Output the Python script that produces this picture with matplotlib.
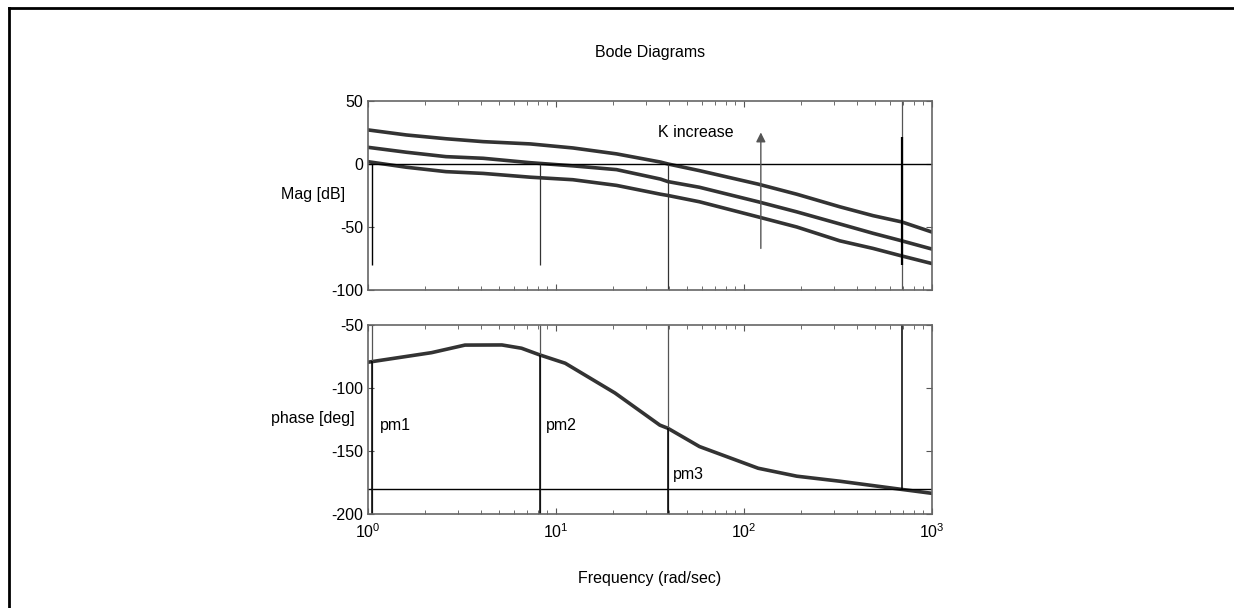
import matplotlib.pyplot as plt
from matplotlib.lines import Line2D

plt.rcParams['font.family'] = ['Liberation Sans', 'DejaVu Sans']
plt.rcParams['mathtext.fontset'] = 'custom'
plt.rcParams['mathtext.rm'] = 'Liberation Sans'
plt.rcParams['mathtext.it'] = 'Liberation Sans'
plt.rcParams['axes.unicode_minus'] = False

# magnitude curves (three gains)
mag_freq = [1, 1.6, 2.6, 4.1, 7.3, 12.3, 21, 36, 39.4, 58, 119, 191, 324, 486, 692, 1000]
mag_high = [27, 23, 20, 17.7, 15.9, 12.7, 8, 1.5, 0, -5.3, -16, -24, -34, -41, -46, -54]
mag_mid = [13.2, 9.3, 5.8, 4.5, 1, -1.5, -4.5, -12, -14, -18.5, -30, -38, -47.6, -55, -61, -67.5]
mag_low = [1.8, -2.6, -6.1, -7.5, -10.5, -12.5, -17, -24, -25, -30, -42, -50, -61, -67, -73, -79]

# phase curve
ph_freq = [1, 2.18, 3.28, 5.16, 6.56, 8.2, 11.2, 20.6, 35.7, 39.4, 58, 119, 191, 324, 692, 1000]
phase = [-79.6, -72, -66, -65.9, -68.5, -73.8, -80.4, -104, -129.5, -132,
         -146.5, -163.7, -170, -174, -180.5, -183.6]

# crossover frequencies and the phase there
wc = [1.05, 8.2, 39.4, 692]
ph_at_wc = [-79, -73.8, -132, -180]
pm_labels = ['pm1', 'pm2', 'pm3']
pm_pos = [(1.16, -130), (8.87, -130), (41.9, -169)]

fs = 11.5
curve_c = '#333333'

fig = plt.figure(figsize=(12.34, 6.08), dpi=100)
ax1 = fig.add_axes([0.2982, 0.523, 0.457, 0.311])
ax2 = fig.add_axes([0.2982, 0.1546, 0.457, 0.311])

for ax in (ax1, ax2):
    ax.set_xscale('log')
    ax.set_xlim(1, 1000)
    ax.tick_params(which='both', direction='in', top=True, right=True, labelsize=fs, color='#555555')
    ax.tick_params(which='major', length=4)
    ax.tick_params(which='minor', length=3)
    for s in ax.spines.values():
        s.set_color('#666666')
        s.set_linewidth(1.2)

# magnitude plot
ax1.plot(mag_freq, mag_high, color=curve_c, lw=2.6)
ax1.plot(mag_freq, mag_mid, color=curve_c, lw=2.6)
ax1.plot(mag_freq, mag_low, color=curve_c, lw=2.6)
ax1.axhline(0, color='black', lw=1)
ax1.vlines(wc[0], -80, 0, color='black', lw=1)
ax1.vlines(wc[1], -80, 0, color='#333333', lw=0.9)
ax1.vlines(wc[2], -100, 0, color='#333333', lw=0.9)
ax1.vlines(wc[3], -100, 50, color='#555555', lw=0.9)
ax1.vlines(wc[3], -80, 21, color='black', lw=1.6)
ax1.annotate('', xy=(123, 25), xytext=(123, -67),
             arrowprops=dict(arrowstyle='-|>', color='#555555', lw=1, mutation_scale=14,
                             shrinkA=0, shrinkB=0))
ax1.text(35, 25, 'K increase', fontsize=fs, ha='left', va='center')
ax1.set_ylim(-100, 50)
ax1.set_yticks([-100, -50, 0, 50])
ax1.tick_params(labelbottom=False)

# phase plot
ax2.plot(ph_freq, phase, color=curve_c, lw=2.6)
ax2.axhline(-180, color='black', lw=1)
for w, p in zip(wc[:3], ph_at_wc[:3]):
    ax2.vlines(w, -200, -50, color='#555555', lw=0.9)
    ax2.vlines(w, -200, p, color='black', lw=1.1)
ax2.vlines(wc[3], -180, -50, color='black', lw=1.1)
for lab, (x, y) in zip(pm_labels, pm_pos):
    ax2.text(x, y, lab, fontsize=fs, ha='left', va='center')
ax2.set_ylim(-200, -50)
ax2.set_yticks([-200, -150, -100, -50])
ax2.set_xticks([1, 10, 100, 1000])
ax2.set_xticklabels(['$10^0$', '$10^1$', '$10^2$', '$10^3$'])
ax2.tick_params(axis='x', pad=6)

fig.text(345 / 1234, 1 - 194 / 608, 'Mag [dB]', fontsize=fs, ha='right', va='center')
fig.text(355 / 1234, 1 - 418 / 608, 'phase [deg]', fontsize=fs, ha='right', va='center')
fig.text(650 / 1234, 1 - 52 / 608, 'Bode Diagrams', fontsize=fs, ha='center', va='center')
fig.text(650 / 1234, 1 - 578 / 608, 'Frequency (rad/sec)', fontsize=fs, ha='center', va='center')

# outer frame (top and left edges only)
fig.add_artist(Line2D([9 / 1234, 1], [1 - 7.5 / 608] * 2, color='black', lw=2, transform=fig.transFigure))
fig.add_artist(Line2D([9 / 1234] * 2, [0, 1 - 7.5 / 608], color='black', lw=2, transform=fig.transFigure))

fig.savefig('out.png', dpi=100)
